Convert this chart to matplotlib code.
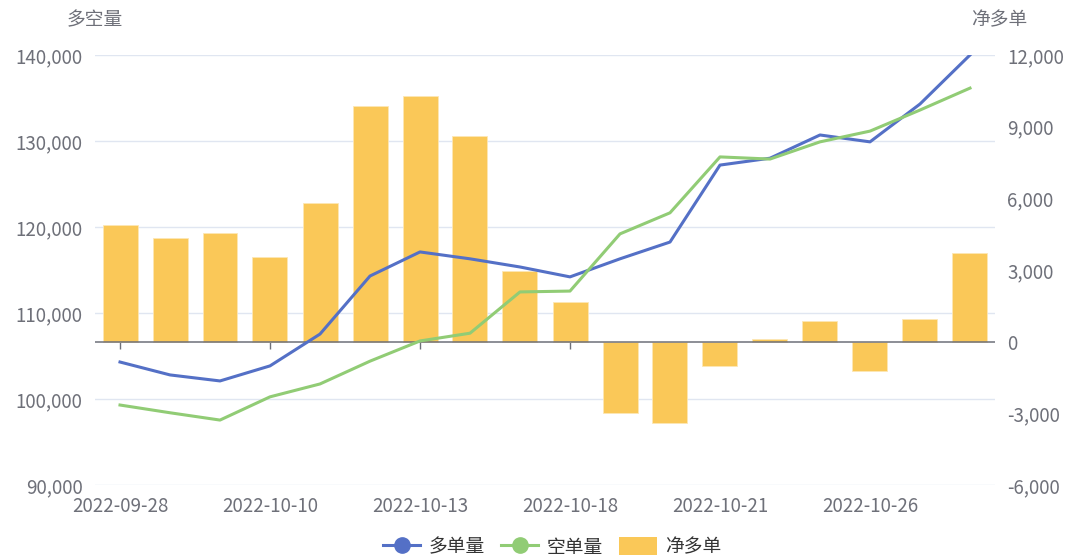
import matplotlib
matplotlib.use('Agg')
import matplotlib.pyplot as plt
from matplotlib.lines import Line2D
from matplotlib.ticker import FuncFormatter

plt.rcParams['font.family'] = ['Noto Sans CJK SC', 'DejaVu Sans']

dates = ['2022-09-28', '2022-09-29', '2022-09-30', '2022-10-10', '2022-10-11', '2022-10-12',
         '2022-10-13', '2022-10-14', '2022-10-17', '2022-10-18', '2022-10-19', '2022-10-20',
         '2022-10-21', '2022-10-24', '2022-10-25', '2022-10-26', '2022-10-27', '2022-10-28']
long_qty = [104300, 102800, 102100, 103850, 107550, 114300, 117100, 116300, 115350,
            114200, 116300, 118250, 127200, 128000, 130700, 129900, 134300, 140000]
short_qty = [99300, 98400, 97550, 100250, 101750, 104400, 106750, 107650, 112450,
             112550, 119200, 121650, 128150, 127900, 129900, 131150, 133600, 136150]
net_long = [4900, 4350, 4560, 3560, 5820, 9880, 10300, 8620, 2970,
            1670, -2970, -3390, -1000, 130, 880, -1210, 960, 3730]

left_ticks = [90000, 100000, 110000, 120000, 130000, 140000]
right_ticks = [-6000, -3000, 0, 3000, 6000, 9000, 12000]

BLUE = '#5470c6'
GREEN = '#91cc75'
YELLOW = '#fac858'
TXT = '#6e7079'
GRID = '#e0e6f1'
FS = 13.5

fig = plt.figure(figsize=(10.68, 5.59), dpi=100)
ax = fig.add_axes([95 / 1068, 1 - 485 / 559, 900 / 1068, 430 / 559])
ax2 = ax.twinx()
ax.set_zorder(2)
ax2.set_zorder(1)
ax.patch.set_visible(False)

x = list(range(len(dates)))

# bars on the right scale (drawn below the lines)
ax2.bar(x, net_long, width=0.7, color=YELLOW, edgecolor='#fde7b5', linewidth=0.6, zorder=2)
ax2.set_ylim(right_ticks[0], right_ticks[-1])
ax2.set_yticks(right_ticks)

# grid lines follow the left axis, drawn under the bars
for v in left_ticks:
    ax2.plot([0, 1], [v, v], transform=ax.get_yaxis_transform(), color=GRID, lw=1, zorder=0)
ax2.axhline(0, color=TXT, lw=1.1, zorder=3)

ax.plot(x, long_qty, color=BLUE, lw=2.2, solid_joinstyle='round')
ax.plot(x, short_qty, color=GREEN, lw=2.2, solid_joinstyle='round')
ax.set_ylim(left_ticks[0], left_ticks[-1])
ax.set_yticks(left_ticks)
ax.set_xlim(-0.5, len(dates) - 0.5)

fmt = FuncFormatter(lambda v, p: '{:,.0f}'.format(v))
ax.yaxis.set_major_formatter(fmt)
ax2.yaxis.set_major_formatter(fmt)

label_idx = list(range(0, len(dates), 3))
ax.set_xticks(label_idx)
ax.set_xticklabels([dates[i] for i in label_idx])
ax.tick_params(axis='x', length=0, pad=8, labelsize=FS, labelcolor=TXT)
ax.tick_params(axis='y', length=0, pad=9, labelsize=FS, labelcolor=TXT)
ax2.tick_params(axis='y', length=0, pad=9, labelsize=FS, labelcolor=TXT)

# small ticks hanging from the zero line
ax2.xaxis.set_visible(True)
ax2.spines['bottom'].set_position(('data', 0))
ax2.set_xticks(label_idx)
ax2.tick_params(axis='x', length=5, width=1, color=TXT, labelbottom=False, direction='out')

for a in (ax, ax2):
    for s in a.spines.values():
        s.set_visible(False)

ax.text(0, 1.081, '多空量', transform=ax.transAxes, ha='center', va='center', fontsize=FS, color=TXT)
ax.text(1.005, 1.081, '净多单', transform=ax.transAxes, ha='center', va='center', fontsize=FS, color=TXT)

handles = [
    Line2D([], [], color=BLUE, lw=2.2, marker='o', markersize=11),
    Line2D([], [], color=GREEN, lw=2.2, marker='o', markersize=11),
    plt.Rectangle((0, 0), 1, 1, facecolor=YELLOW, edgecolor='none'),
]
leg = fig.legend(handles, ['多单量', '空单量', '净多单'], loc='center', bbox_to_anchor=(552 / 1068, 1 - 547 / 559),
                 ncol=3, frameon=False, fontsize=FS, handlelength=2.0, handleheight=1.1,
                 columnspacing=0.85, handletextpad=0.45, labelcolor='#333333')

fig.savefig('out.png', dpi=100)
